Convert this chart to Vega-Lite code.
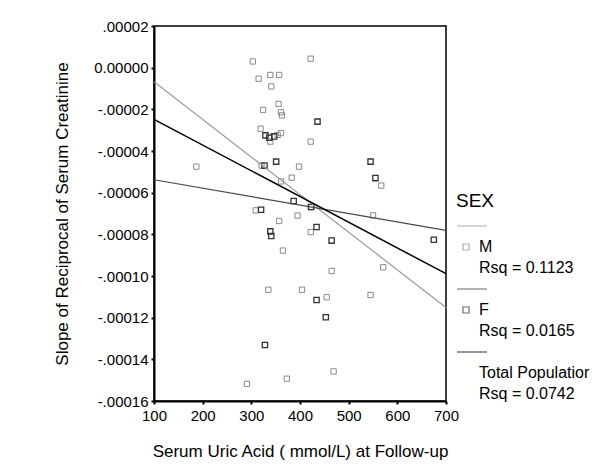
{
  "$schema": "https://vega.github.io/schema/vega-lite/v6.json",
  "width": 292,
  "height": 375,
  "autosize": {"type": "none"},
  "padding": {"left": 154, "top": 26, "right": 167, "bottom": 75},
  "background": "white",
  "config": {
    "font": "Liberation Sans",
    "view": {"stroke": "black", "strokeWidth": 1.5},
    "axis": {
      "grid": false,
      "domainColor": "black",
      "domainWidth": 2,
      "tickColor": "black",
      "tickWidth": 2,
      "tickSize": 3,
      "labelColor": "black",
      "labelFontSize": 15,
      "labelFlush": false,
      "labelFont": "Liberation Sans",
      "titleFont": "Liberation Sans",
      "titleFontSize": 17,
      "titleFontWeight": "normal",
      "titleColor": "black"
    },
    "legend": {
      "titleFont": "Liberation Sans",
      "labelFont": "Liberation Sans"
    }
  },
  "datasets": {
    "pts": [
      {"sex": "M", "uric": 303, "slope": 0.0000030},
      {"sex": "M", "uric": 422, "slope": 0.0000043},
      {"sex": "M", "uric": 315, "slope": -0.0000053},
      {"sex": "M", "uric": 339, "slope": -0.0000035},
      {"sex": "M", "uric": 357, "slope": -0.0000035},
      {"sex": "M", "uric": 341, "slope": -0.0000090},
      {"sex": "M", "uric": 356, "slope": -0.0000174},
      {"sex": "M", "uric": 324, "slope": -0.0000203},
      {"sex": "M", "uric": 361, "slope": -0.0000214},
      {"sex": "M", "uric": 363, "slope": -0.0000229},
      {"sex": "M", "uric": 319, "slope": -0.0000293},
      {"sex": "M", "uric": 361, "slope": -0.0000314},
      {"sex": "M", "uric": 354, "slope": -0.0000323},
      {"sex": "M", "uric": 339, "slope": -0.0000355},
      {"sex": "M", "uric": 422, "slope": -0.0000355},
      {"sex": "M", "uric": 187, "slope": -0.0000475},
      {"sex": "M", "uric": 398, "slope": -0.0000475},
      {"sex": "M", "uric": 321, "slope": -0.0000470},
      {"sex": "M", "uric": 383, "slope": -0.0000528},
      {"sex": "M", "uric": 361, "slope": -0.0000546},
      {"sex": "M", "uric": 567, "slope": -0.0000566},
      {"sex": "M", "uric": 309, "slope": -0.0000685},
      {"sex": "M", "uric": 422, "slope": -0.0000669},
      {"sex": "M", "uric": 550, "slope": -0.0000709},
      {"sex": "M", "uric": 395, "slope": -0.0000710},
      {"sex": "M", "uric": 357, "slope": -0.0000736},
      {"sex": "M", "uric": 422, "slope": -0.0000789},
      {"sex": "M", "uric": 365, "slope": -0.0000878},
      {"sex": "M", "uric": 571, "slope": -0.0000958},
      {"sex": "M", "uric": 465, "slope": -0.0000976},
      {"sex": "M", "uric": 335, "slope": -0.0001066},
      {"sex": "M", "uric": 404, "slope": -0.0001066},
      {"sex": "M", "uric": 455, "slope": -0.0001102},
      {"sex": "M", "uric": 545, "slope": -0.0001091},
      {"sex": "M", "uric": 469, "slope": -0.0001458},
      {"sex": "M", "uric": 373, "slope": -0.0001493},
      {"sex": "M", "uric": 291, "slope": -0.0001518},
      {"sex": "F", "uric": 436, "slope": -0.0000259},
      {"sex": "F", "uric": 329, "slope": -0.0000325},
      {"sex": "F", "uric": 337, "slope": -0.0000336},
      {"sex": "F", "uric": 347, "slope": -0.0000330},
      {"sex": "F", "uric": 351, "slope": -0.0000451},
      {"sex": "F", "uric": 327, "slope": -0.0000470},
      {"sex": "F", "uric": 545, "slope": -0.0000451},
      {"sex": "F", "uric": 555, "slope": -0.0000530},
      {"sex": "F", "uric": 387, "slope": -0.0000640},
      {"sex": "F", "uric": 423, "slope": -0.0000669},
      {"sex": "F", "uric": 320, "slope": -0.0000682},
      {"sex": "F", "uric": 434, "slope": -0.0000765},
      {"sex": "F", "uric": 339, "slope": -0.0000786},
      {"sex": "F", "uric": 341, "slope": -0.0000808},
      {"sex": "F", "uric": 465, "slope": -0.0000830},
      {"sex": "F", "uric": 675, "slope": -0.0000826},
      {"sex": "F", "uric": 434, "slope": -0.0001115},
      {"sex": "F", "uric": 453, "slope": -0.0001198},
      {"sex": "F", "uric": 328, "slope": -0.0001331}
    ],
    "fits": [
      {"g": "M", "uric": 100, "slope": -0.0000068},
      {"g": "M", "uric": 700, "slope": -0.0001151},
      {"g": "F", "uric": 100, "slope": -0.0000538},
      {"g": "F", "uric": 700, "slope": -0.0000781},
      {"g": "T", "uric": 100, "slope": -0.0000248},
      {"g": "T", "uric": 700, "slope": -0.0000989}
    ],
    "keys": [
      {"k": "lineM"}, {"k": "M"}, {"k": "rM"},
      {"k": "lineF"}, {"k": "F"}, {"k": "rF"},
      {"k": "lineT"}, {"k": "T"}, {"k": "rT"}
    ]
  },
  "layer": [
    {
      "data": {"name": "pts"},
      "transform": [{"filter": "datum.sex == 'M'"}],
      "mark": {"type": "point", "shape": "square", "filled": false, "size": 28, "strokeWidth": 1, "color": "#8a8a8a", "opacity": 1},
      "encoding": {
        "x": {
          "field": "uric", "type": "quantitative",
          "scale": {"domain": [100, 700], "nice": false, "zero": false},
          "axis": {
            "title": "Serum Uric Acid ( mmol/L) at Follow-up",
            "values": [100, 200, 300, 400, 500, 600, 700],
            "format": "d",
            "labelFlush": false,
            "labelPadding": 4,
            "titleY": 55,
            "titleBaseline": "alphabetic"
          }
        },
        "y": {
          "field": "slope", "type": "quantitative",
          "scale": {"domain": [-0.00016, 0.00002], "nice": false, "zero": false},
          "axis": {
            "title": "Slope of Reciprocal of Serum Creatinine",
            "values": [0.00002, 0, -0.00002, -0.00004, -0.00006, -0.00008, -0.0001, -0.00012, -0.00014, -0.00016],
            "labelExpr": "datum.value == 0 ? '0.00000' : (datum.value < 0 ? '-' : '') + replace(format(abs(datum.value), '.5f'), '0.', '.')",
            "labelFlush": false,
            "labelPadding": 3,
            "titleX": -87,
            "titleBaseline": "alphabetic",
            "encode": {"labels": {"update": {"baseline": {"signal": "datum.value < -0.000159 ? 'bottom' : 'middle'"}}}}
          }
        }
      }
    },
    {
      "data": {"name": "pts"},
      "transform": [{"filter": "datum.sex == 'F'"}],
      "mark": {"type": "point", "shape": "square", "filled": false, "size": 28, "strokeWidth": 1.3, "color": "#333333", "opacity": 1},
      "encoding": {
        "x": {"field": "uric", "type": "quantitative"},
        "y": {"field": "slope", "type": "quantitative"}
      }
    },
    {
      "data": {"name": "fits"},
      "transform": [{"filter": "datum.g == 'M'"}],
      "mark": {"type": "line", "color": "#9a9a9a", "strokeWidth": 1.2},
      "encoding": {
        "x": {"field": "uric", "type": "quantitative"},
        "y": {"field": "slope", "type": "quantitative"}
      }
    },
    {
      "data": {"name": "fits"},
      "transform": [{"filter": "datum.g == 'F'"}],
      "mark": {"type": "line", "color": "#4a4a4a", "strokeWidth": 1.2},
      "encoding": {
        "x": {"field": "uric", "type": "quantitative"},
        "y": {"field": "slope", "type": "quantitative"}
      }
    },
    {
      "data": {"name": "fits"},
      "transform": [{"filter": "datum.g == 'T'"}],
      "mark": {"type": "line", "color": "#000000", "strokeWidth": 1.5},
      "encoding": {
        "x": {"field": "uric", "type": "quantitative"},
        "y": {"field": "slope", "type": "quantitative"}
      }
    },
    {
      "data": {"name": "keys"},
      "transform": [{"filter": "datum.k == 'none'"}],
      "mark": {"type": "point", "filled": false, "strokeWidth": 1.2},
      "encoding": {
        "color": {
          "field": "k", "type": "nominal",
          "scale": {
            "domain": ["lineM", "M", "rM", "lineF", "F", "rF", "lineT", "T", "rT"],
            "range": ["#9a9a9a", "#8a8a8a", "transparent", "#4a4a4a", "#333333", "transparent", "#000000", "transparent", "transparent"]
          },
          "legend": {
            "title": "SEX",
            "orient": "none",
            "legendX": 302,
            "legendY": 166,
            "padding": 0,
            "titleFontSize": 19,
            "titleFontWeight": "normal",
            "titleColor": "black",
            "titlePadding": 7,
            "labelFontSize": 16,
            "labelColor": "black",
            "labelOffset": -9,
            "rowPadding": 5,
            "clipHeight": 16,
            "symbolSize": 900,
            "symbolStrokeWidth": 1.2,
            "labelExpr": "{'lineM': ' ', 'M': 'M', 'rM': 'Rsq = 0.1123', 'lineF': ' ', 'F': 'F', 'rF': 'Rsq = 0.0165', 'lineT': ' ', 'T': 'Total Populatior', 'rT': 'Rsq = 0.0742'}[datum.label]"
          }
        },
        "shape": {
          "field": "k", "type": "nominal",
          "scale": {
            "domain": ["lineM", "M", "rM", "lineF", "F", "rF", "lineT", "T", "rT"],
            "range": ["M-1,0H1", "M-0.6,-0.2H-0.2V0.2H-0.6Z", "M-1,0H1", "M-1,0H1", "M-0.6,-0.2H-0.2V0.2H-0.6Z", "M-1,0H1", "M-1,0H1", "M-1,0H1", "M-1,0H1"]
          },
          "legend": {
            "title": "SEX",
            "orient": "none",
            "legendX": 302,
            "legendY": 166
          }
        }
      }
    }
  ]
}
